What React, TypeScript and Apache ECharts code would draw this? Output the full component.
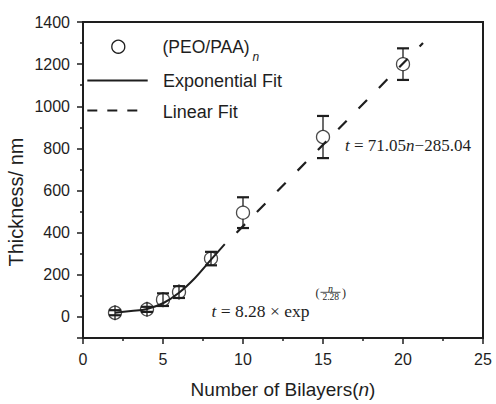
import React, { useEffect, useRef } from 'react';
import * as echarts from 'echarts';

const bilayers = [2, 4, 5, 6, 8, 10, 15, 20];
const thickness = [20, 36, 82, 118, 277, 495, 854, 1200];
const errors = [12, 12, 30, 28, 32, 73, 100, 75];

// Fit curves as drawn in the picture
const expFitN = [2, 3, 4, 5, 6, 7, 8, 8.86];
const expFitT = [20, 28, 38, 65, 115, 185, 272, 346];
const linFitN = [9.6, 21.25];
const linFitT = [400, 1300];

// Axes
const xMin = 0;
const xMax = 25;
const xInterval = 5;
const yMin = -100;
const yMax = 1400;

const INK = '#1e1e1e';
const SANS = '"Liberation Sans", Arial, sans-serif';
const SERIF = '"Liberation Serif", "Times New Roman", serif';
const SYMBOL = 13;

export default function App() {
  const ref = useRef<HTMLDivElement>(null);

  useEffect(() => {
    if (!ref.current) return;
    const chart = echarts.init(ref.current, null, { renderer: 'svg' });

    const points = bilayers.map((n, i) => [n, thickness[i]]);
    const errData = bilayers.map((n, i) => [n, thickness[i] - errors[i], thickness[i] + errors[i], thickness[i]]);
    const expData = expFitN.map((n, i) => [n, expFitT[i]]);
    const linData = linFitN.map((n, i) => [n, linFitT[i]]);

    const option: any = {
      animation: false,
      backgroundColor: '#ffffff',
      grid: {
        left: 83,
        right: 13,
        top: 22,
        bottom: 57,
        show: true,
        borderColor: INK,
        borderWidth: 2,
        backgroundColor: 'transparent',
      },
      xAxis: {
        type: 'value',
        min: xMin,
        max: xMax,
        interval: xInterval,
        name: 'Number of Bilayers({i|n})',
        nameLocation: 'middle',
        nameGap: 42,
        nameTextStyle: {
          fontFamily: SANS,
          fontSize: 19,
          color: INK,
          rich: { i: { fontFamily: SANS, fontSize: 19, fontStyle: 'italic', color: INK } },
        },
        axisLine: { show: true, onZero: false, lineStyle: { color: INK, width: 2 } },
        axisTick: { show: true, inside: false, length: 6, lineStyle: { color: INK, width: 1.5 } },
        minorTick: { show: true, splitNumber: 2, length: 3, lineStyle: { color: INK, width: 1.5 } },
        splitLine: { show: false },
        axisLabel: { fontFamily: SANS, fontSize: 16, color: INK, margin: 13 },
      },
      yAxis: {
        type: 'value',
        min: yMin,
        max: yMax,
        splitNumber: 7,
        axisLine: { show: true, onZero: false, lineStyle: { color: INK, width: 2 } },
        axisTick: { show: true, inside: false, length: 6, lineStyle: { color: INK, width: 1.5 } },
        minorTick: { show: true, splitNumber: 2, length: 3, lineStyle: { color: INK, width: 1.5 } },
        splitLine: { show: false },
        axisLabel: {
          fontFamily: SANS,
          fontSize: 16,
          color: INK,
          margin: 13,
          showMinLabel: false,
          formatter: (v: number) => String(v),
        },
      },
      series: [
        {
          type: 'custom',
          name: 'error',
          data: errData,
          z: 3,
          renderItem: (params: any, api: any) => {
            const x = api.value(0);
            const lo = api.coord([x, api.value(1)]);
            const hi = api.coord([x, api.value(2)]);
            const c = api.coord([x, api.value(3)]);
            const r = SYMBOL / 2;
            const w = 6;
            const st = { stroke: INK, lineWidth: 1.3 };
            const cap = { stroke: INK, lineWidth: 2.2 };
            const children: any[] = [];
            if (c[1] - hi[1] > r + 0.5) {
              children.push({ type: 'line', shape: { x1: c[0], y1: c[1] - r, x2: hi[0], y2: hi[1] }, style: st });
              children.push({ type: 'line', shape: { x1: c[0], y1: c[1] + r, x2: lo[0], y2: lo[1] }, style: st });
            } else {
              children.push({ type: 'line', shape: { x1: c[0], y1: c[1] - r - 1, x2: c[0], y2: c[1] + r + 1 }, style: st });
            }
            children.push({ type: 'line', shape: { x1: hi[0] - w, y1: hi[1], x2: hi[0] + w, y2: hi[1] }, style: cap });
            children.push({ type: 'line', shape: { x1: lo[0] - w, y1: lo[1], x2: lo[0] + w, y2: lo[1] }, style: cap });
            return { type: 'group', children };
          },
        },
        {
          type: 'scatter',
          name: '(PEO/PAA)n',
          data: points,
          symbol: 'circle',
          symbolSize: SYMBOL,
          z: 3,
          itemStyle: { color: 'rgba(255,255,255,0)', borderColor: INK, borderWidth: 1.3 },
        },
        {
          type: 'line',
          name: 'Exponential Fit',
          data: expData,
          smooth: 0.4,
          showSymbol: false,
          symbol: 'none',
          z: 4,
          lineStyle: { color: INK, width: 2 },
        },
        {
          type: 'line',
          name: 'Linear Fit',
          data: linData,
          showSymbol: false,
          symbol: 'none',
          z: 4,
          lineStyle: { color: INK, width: 2.2, type: [12, 17] },
        },
      ],
      graphic: [
        // Legend
        { type: 'circle', shape: { cx: 118.3, cy: 46.7, r: 6.5 }, style: { fill: 'none', stroke: INK, lineWidth: 1.3 } },
        { type: 'text', x: 162.5, y: 47, style: { text: '(PEO/PAA)', font: `17.5px ${SANS}`, fill: INK, verticalAlign: 'middle' } },
        { type: 'text', x: 252.5, y: 57, style: { text: 'n', font: `italic 12px ${SANS}`, fill: INK, verticalAlign: 'middle' } },
        { type: 'line', shape: { x1: 87.3, y1: 80.5, x2: 147.7, y2: 80.5 }, style: { stroke: INK, lineWidth: 2 } },
        { type: 'text', x: 163, y: 81, style: { text: 'Exponential Fit', font: `18px ${SANS}`, fill: INK, verticalAlign: 'middle' } },
        { type: 'line', shape: { x1: 87.3, y1: 110.5, x2: 138, y2: 110.5 }, style: { stroke: INK, lineWidth: 2, lineDash: [10, 10] } },
        { type: 'text', x: 162.7, y: 111.5, style: { text: 'Linear Fit', font: `18px ${SANS}`, fill: INK, verticalAlign: 'middle' } },
        // Y axis title
        {
          type: 'text',
          x: 16,
          y: 202,
          rotation: Math.PI / 2,
          style: { text: 'Thickness/ nm', font: `20px ${SANS}`, fill: INK, align: 'center', verticalAlign: 'middle' },
        },
        // Linear fit equation
        {
          type: 'text',
          x: 345,
          y: 145,
          style: {
            text: '{i|t} = 71.05{i|n}\u2212285.04',
            font: `17px ${SERIF}`,
            fill: INK,
            verticalAlign: 'middle',
            rich: { i: { font: `italic 17px ${SERIF}`, fill: INK } },
          },
        },
        // Exponential fit equation
        {
          type: 'text',
          x: 211.5,
          y: 311,
          style: {
            text: '{i|t} = 8.28 \u00d7 exp',
            font: `17.5px ${SERIF}`,
            fill: INK,
            verticalAlign: 'middle',
            rich: { i: { font: `italic 17.5px ${SERIF}`, fill: INK } },
          },
        },
        { type: 'text', x: 315.5, y: 293, style: { text: '(', font: `12px ${SERIF}`, fill: INK, verticalAlign: 'middle' } },
        { type: 'text', x: 330.5, y: 288, style: { text: 'n', font: `italic 10px ${SERIF}`, fill: INK, align: 'center', verticalAlign: 'middle' } },
        { type: 'line', shape: { x1: 320.5, y1: 292.3, x2: 340.5, y2: 292.3 }, style: { stroke: INK, lineWidth: 0.8 } },
        { type: 'text', x: 330.8, y: 297, style: { text: '2.28', font: `9.5px ${SERIF}`, fill: INK, align: 'center', verticalAlign: 'middle' } },
        { type: 'text', x: 342, y: 293, style: { text: ')', font: `12px ${SERIF}`, fill: INK, verticalAlign: 'middle' } },
      ],
    };

    chart.setOption(option);
    return () => chart.dispose();
  }, []);

  return (
    <div
      ref={ref}
      style={{ position: 'fixed', left: 0, top: 0, width: 496, height: 404, background: '#fff' }}
    />
  );
}
